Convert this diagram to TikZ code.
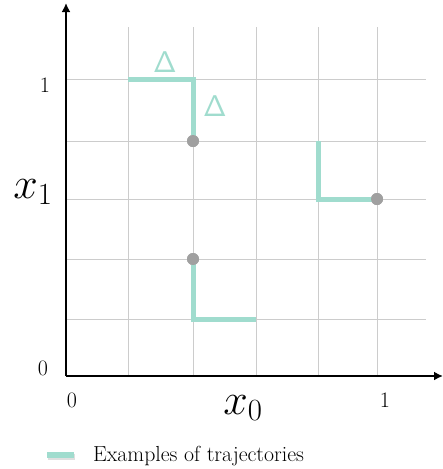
\RequirePackage{fix-cm}
\documentclass[tikz,border=0pt]{standalone}
\usepackage{amsmath}
\usepackage{xcolor}
\usetikzlibrary{arrows.meta,positioning}
\definecolor{trajcol}{RGB}{160,220,206}
\definecolor{gridcol}{RGB}{204,204,204}
\definecolor{dotcol}{RGB}{160,160,160}
\begin{document}
\begin{tikzpicture}[x=1pt,y=-1pt,
    gridln/.style={gridcol,line width=1pt},
    axis/.style={line width=2.6pt,-{Latex[length=9pt,width=9pt]}},
    traj/.style={trajcol,line width=5pt,line join=miter},
    trajsh/.style={black!25,line width=5pt,opacity=0.5},
    pt/.style={circle,fill=dotcol,minimum size=12pt,inner sep=0pt},
    lbl/.style={font=\fontsize{22}{22}\selectfont},
    dlt/.style={trajcol,font=\fontsize{30}{30}\selectfont},
    >=Latex]
\useasboundingbox (0,0) rectangle (443,469);
% grid
\foreach \gx in {128,193,256,318,377} {
  \draw[gridln] (\gx,27) -- (\gx,376);
}
\foreach \gy in {79,141,199,259,319} {
  \draw[gridln] (66,\gy) -- (426,\gy);
}
% axes
\coordinate (o) at (66,376);
\coordinate (xend) at (443,376);
\coordinate (yend) at (66,3);
\draw[axis] (o) -- (xend);
\draw[axis] (o) -- (yend);
% tick labels
\node[lbl] (y1) at (45,85) {1};
\node[lbl] (y0) at (43,368) {0};
\node[lbl] (x0l) at (72,400) {0};
\node[lbl] (x1l) at (385,400) {1};
\node[font=\fontsize{44}{44}\selectfont] (xone) at (33,192) {$x_1$};
\node[font=\fontsize{44}{44}\selectfont] (xzero) at (243,408) {$x_0$};
% trajectory points
\node[pt] (p1) at (193,141) {};
\node[pt] (p2) at (193,259) {};
\node[pt] (p3) at (377,199) {};
\coordinate (a1) at (128,79);
\coordinate (a2) at (193,79);
\coordinate (b1) at (193,319);
\coordinate (b2) at (256,319);
\coordinate (c1) at (318,141);
\coordinate (c2) at (318,199);
% shadows
\begin{scope}[shift={(1.5,2)}]
  \draw[trajsh] (a1) -- (a2) -- (p1.center);
  \draw[trajsh] (p2.center) -- (b1) -- (b2);
  \draw[trajsh] (c1) -- (c2) -- (p3.center);
\end{scope}
% trajectories
\draw[traj] (a1) -- (a2) -- (p1.center);
\draw[traj] (p2.center) -- (b1) -- (b2);
\draw[traj] (c1) -- (c2) -- (p3.center);
\node[pt] at (p1) {};
\node[pt] at (p2) {};
\node[pt] at (p3) {};
% step labels
\node[dlt] (d1) at (165,62) {$\mathsf{\Delta}$};
\node[dlt] (d2) at (215,106) {$\mathsf{\Delta}$};
% legend
\coordinate (lg1) at (47,455);
\coordinate (lg2) at (74,455);
\draw[trajsh,line width=6pt] ([shift={(1,1.5)}]lg1) -- ([shift={(1,1.5)}]lg2);
\draw[traj,line width=6pt] (lg1) -- (lg2);
\node[anchor=base west,inner sep=0pt,font=\fontsize{21.8}{21.8}\selectfont] (lgt) at (93,461) {Examples of trajectories};
\end{tikzpicture}
\end{document}
